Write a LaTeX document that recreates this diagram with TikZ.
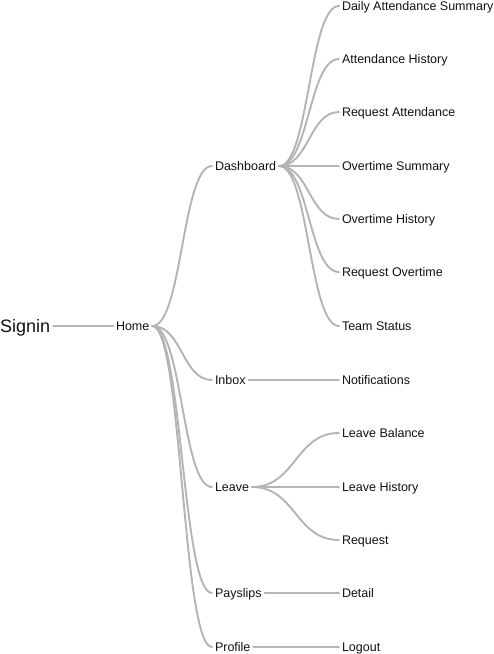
\documentclass[tikz,border=0pt]{standalone}
\usepackage{fontspec}
\setmainfont{Liberation Sans}
\usetikzlibrary{calc}
\definecolor{linkgray}{HTML}{B4B4B4}
\definecolor{txt}{HTML}{111111}
\tikzset{
  item/.style={anchor=west, inner sep=0pt, outer sep=3pt, text=txt,
    font=\fontsize{12.5}{14}\selectfont, text height=9pt, text depth=0pt},
  rootitem/.style={item, font=\fontsize{18}{20}\selectfont, text height=13pt},
  link/.style={draw=linkgray, line width=1.9pt, line cap=round,
    to path={let \p1=(\tikztostart), \p2=(\tikztotarget) in
      (\p1) .. controls ({(\x1+\x2)/2},\y1) and ({(\x1+\x2)/2},\y2) .. (\p2)}}
}
\begin{document}
\begin{tikzpicture}[x=1pt,y=-1pt]
\useasboundingbox (0,0) rectangle (494,654);
\node[rootitem] (signin) at (-3,326) {Signin};
\node[item] (home) at (113,326) {Home};
\node[item] (dash) at (212,166) {Dashboard};
\node[item] (inbox) at (212,380) {Inbox};
\node[item] (leave) at (212,487) {Leave};
\node[item] (pay) at (212,593) {Payslips};
\node[item] (prof) at (212,647) {Profile};
\node[item] (d1) at (339,6) {Daily Attendance Summary};
\node[item] (d2) at (339,59) {Attendance History};
\node[item] (d3) at (339,112) {Request Attendance};
\node[item] (d4) at (339,166) {Overtime Summary};
\node[item] (d5) at (339,219) {Overtime History};
\node[item] (d6) at (339,272) {Request Overtime};
\node[item] (d7) at (339,326) {Team Status};
\node[item] (n1) at (339,380) {Notifications};
\node[item] (l1) at (339,433) {Leave Balance};
\node[item] (l2) at (339,487) {Leave History};
\node[item] (l3) at (339,540) {Request};
\node[item] (p1) at (339,593) {Detail};
\node[item] (o1) at (339,647) {Logout};
\draw[link] (signin.east) to (home.west);
\foreach \c in {dash,inbox,leave,pay,prof} \draw[link] (home.east) to (\c.west);
\foreach \c in {d1,d2,d3,d4,d5,d6,d7} \draw[link] (dash.east) to (\c.west);
\draw[link] (inbox.east) to (n1.west);
\foreach \c in {l1,l2,l3} \draw[link] (leave.east) to (\c.west);
\draw[link] (pay.east) to (p1.west);
\draw[link] (prof.east) to (o1.west);
\end{tikzpicture}
\end{document}
